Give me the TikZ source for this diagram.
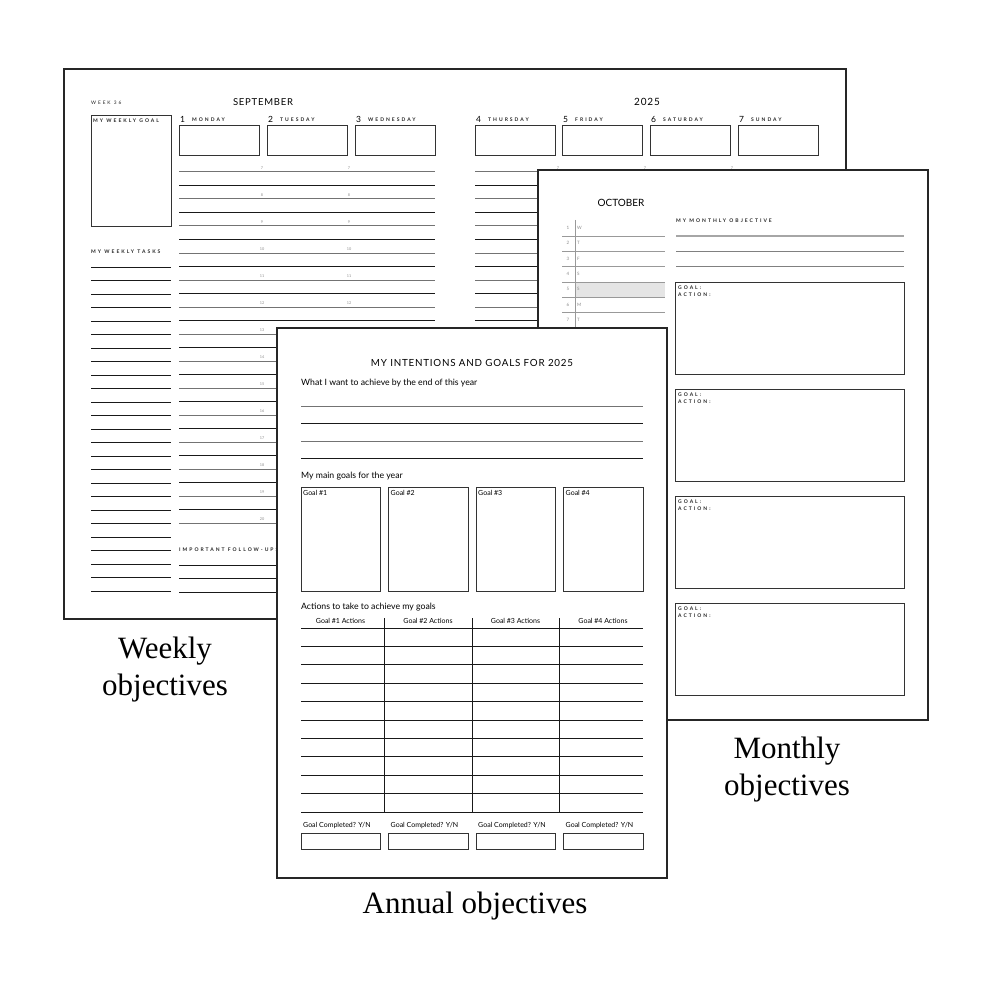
\documentclass[tikz,border=0pt]{standalone}
\usepackage{fontspec}
\setmainfont{Liberation Serif}
\newfontfamily\plainsans{Lato}
\newfontfamily\widesans[LetterSpace=40]{Lato}
\newfontfamily\midsans[LetterSpace=8]{Lato}
\newcommand{\psize}[1]{\fontsize{#1}{#1}\selectfont}
\tikzset{
  page/.style={draw=black!85,line width=1.3pt,fill=white},
  box/.style={draw=black!80,line width=1pt},
  darkrule/.style={black!90,line width=0.8pt},
  greyrule/.style={black!55,line width=1pt},
  tiny/.style={font=\widesans\bfseries\psize{5},text=black!85,inner sep=0pt,anchor=west},
  hour/.style={font=\plainsans\psize{3.8},text=black!45,inner sep=0pt},
  small/.style={font=\plainsans\psize{7},inner sep=0pt},
  caption/.style={font=\fontsize{31}{37}\selectfont,align=center,inner sep=0pt},
}
\begin{document}
\begin{tikzpicture}[x=1pt,y=-1pt]
    \useasboundingbox[fill=white] (0,0) rectangle (1000,1000);
    % weekly page
    \draw[page] (64,69) rectangle (846,619);
    \node[tiny,font=\widesans\psize{4.8}] (week) at (91,103) {WEEK 36};
    \node[font=\midsans\psize{9.5},inner sep=0pt] (sept) at (263,102) {SEPTEMBER};
    \node[font=\midsans\psize{10},inner sep=0pt] (year) at (647,102) {2025};
    \draw[box] (91,116) rectangle (171,227);
    \node[tiny] (wgoal) at (93,120.5) {MY WEEKLY GOAL};
    \foreach \n/\d/\x in {1/MONDAY/179,2/TUESDAY/267,3/WEDNESDAY/355,4/THURSDAY/475,5/FRIDAY/562,6/SATURDAY/650,7/SUNDAY/738}{
        \node[font=\plainsans\psize{8.5},anchor=west,inner sep=0pt] (num\n) at (\x+1,119) {\n};
        \node[tiny] (day\n) at (\x+13,120) {\d};
        \draw[box] (\x,126) rectangle (\x+80,156);
    }
    \foreach \i in {0,...,13}
        \draw[greyrule] (179,172+27*\i)--(435,172+27*\i) (475,172+27*\i)--(818,172+27*\i);
    \foreach \i in {0,...,12}
        \draw[darkrule] (179,185.5+27*\i)--(435,185.5+27*\i) (475,185.5+27*\i)--(818,185.5+27*\i);
    \foreach \h [count=\i from 0] in {7,...,20}
        \node[hour] (ha\h) at (262,168.5+27*\i) {\h};
    \foreach \h [count=\i from 0] in {7,...,12}
        \node[hour] (hb\h) at (349,168.5+27*\i) {\h};
    \foreach \x [count=\i] in {558,645,732}
        \node[hour] (hc\i) at (\x,168.5) {7};
    \node[tiny] (wtasks) at (91,252) {MY WEEKLY TASKS};
    \foreach \i in {0,...,24}
        \draw[darkrule] (91,267+13.5*\i)--(171,267+13.5*\i);
    \node[tiny] (follow) at (179,550) {IMPORTANT FOLLOW-UPS};
    \foreach \y in {565,578.5,592}
        \draw[darkrule] (179,\y)--(435,\y) (475,\y)--(818,\y);
    % monthly page
    \draw[page] (538,170) rectangle (928,720);
    \node[font=\plainsans\psize{10},inner sep=0pt] (oct) at (621,203) {OCTOBER};
    \fill[black!10] (575,282) rectangle (665,297);
    \draw[black!40,line width=0.6pt] (575,220)--(575,330);
    \foreach \n/\l [count=\i from 0] in {1/W,2/T,3/F,4/S,5/S,6/M,7/T}{
        \node[hour,font=\plainsans\psize{4.5}] (mn\n) at (568,228+15.3*\i) {\n};
        \node[hour,font=\plainsans\psize{4.5},anchor=west] (ml\n) at (577,228+15.3*\i) {\l};
        \draw[black!40,line width=0.7pt] (562,236+15.3*\i)--(665,236+15.3*\i);
    }
    \node[tiny] (mobj) at (676,221) {MY MONTHLY OBJECTIVE};
    \draw[black!35,line width=1.2pt] (676,236)--(904,236);
    \draw[black!50,line width=0.7pt] (676,251)--(904,251) (676,266)--(904,266);
    \foreach \t [count=\i] in {282,389,496,603}{
        \draw[box] (675,\t) rectangle (904,\t+92);
        \node[tiny] (mg\i) at (678,\t+6) {GOAL:};
        \node[tiny] (ma\i) at (678,\t+13) {ACTION:};
    }
    % annual page
    \draw[page] (277,328) rectangle (667,878);
    \node[font=\midsans\psize{9.8},inner sep=0pt] (title) at (472,363) {MY INTENTIONS AND GOALS FOR 2025};
    \node[font=\plainsans\psize{8.7},inner sep=0pt,anchor=west] (want) at (301,383) {What I want to achieve by the end of this year};
    \draw[greyrule] (301,406)--(643,406) (301,441)--(643,441);
    \draw[darkrule] (301,423)--(643,423) (301,458)--(643,458);
    \node[font=\plainsans\psize{8.7},inner sep=0pt,anchor=west] (main) at (301,476) {My main goals for the year};
    \foreach \x [count=\i] in {301,388.5,476,563.5}{
        \draw[box] (\x,487) rectangle (\x+79.5,591);
        \node[small,anchor=north west] (g\i) at (\x+2,490) {Goal \#\i};
        \node[small] (ga\i) at (\x+39.5,621) {Goal \#\i\ Actions};
        \node[small,anchor=west] (gc\i) at (\x+2,826) {Goal Completed? Y/N};
        \draw[box] (\x,833) rectangle (\x+79.5,849);
    }
    \node[font=\plainsans\psize{8.7},inner sep=0pt,anchor=west] (act) at (301,607) {Actions to take to achieve my goals};
    \foreach \i in {0,...,10}
        \draw[darkrule] (301,628+18.4*\i)--(643,628+18.4*\i);
    \foreach \x in {384,472,559}
        \draw[darkrule] (\x,618)--(\x,812);
    % captions
    \node[caption] (wlab) at (165,670) {Weekly\\objectives};
    \node[caption] (mlab) at (787,770) {Monthly\\objectives};
    \node[caption] (alab) at (475,906) {Annual objectives};
\end{tikzpicture}
\end{document}
